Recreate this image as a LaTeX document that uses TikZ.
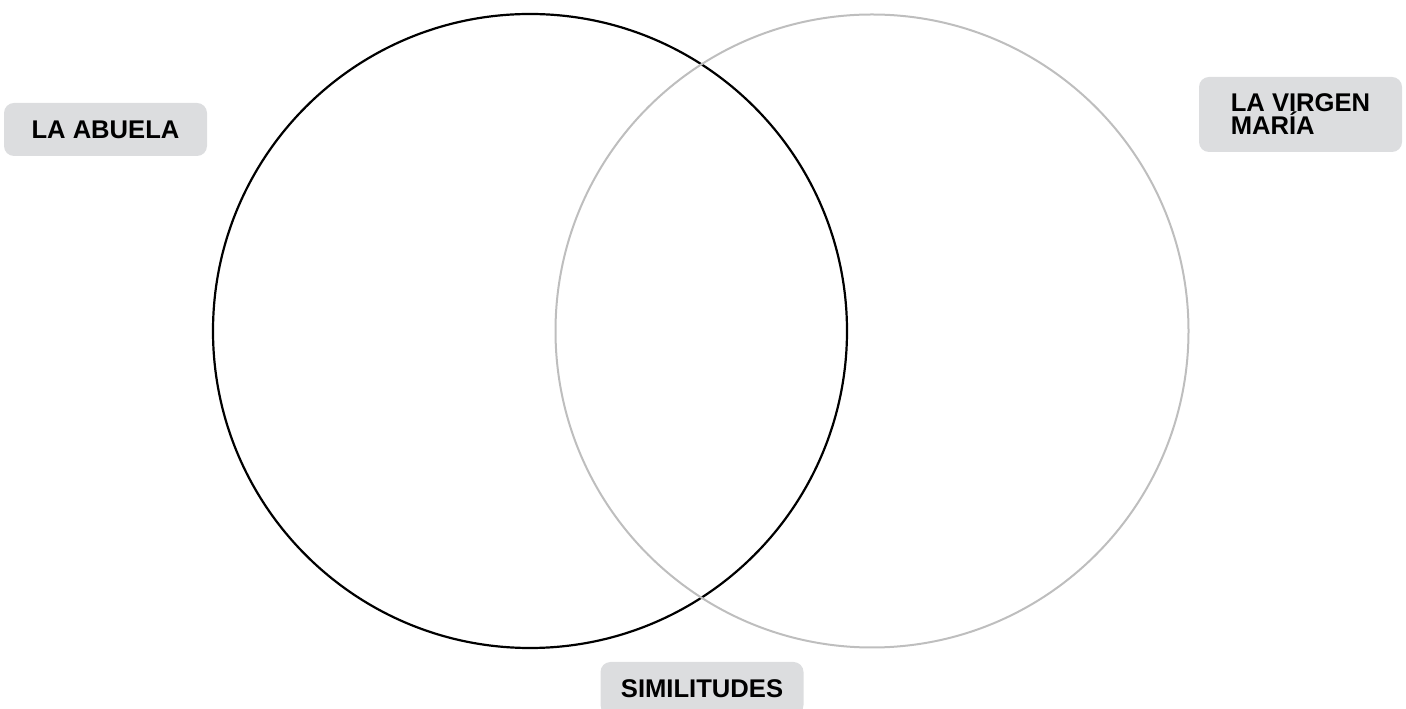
\documentclass[tikz,border=0pt]{standalone}
\usepackage{fontspec}
\setmainfont{Liberation Sans}
\usepackage{tikz}
\usetikzlibrary{positioning}
\definecolor{tagfill}{HTML}{DCDDDF}
\definecolor{ringgrey}{HTML}{BEBEBE}
\tikzset{
  tag/.style={fill=tagfill, rounded corners=10pt, minimum width=203pt, minimum height=53pt,
    align=left, font=\fontsize{25.6}{23}\selectfont\bfseries, inner sep=0pt}
}

\begin{document}
\begin{tikzpicture}[x=1pt,y=1pt]
  \useasboundingbox (0,0) rectangle (1406,709);

  % Left set
  \draw[line width=2.2pt, black] (530,378) circle (317);

  % Right set
  \draw[line width=2pt, ringgrey] (872,378) circle (316.5);

  % Labels
  \node[tag] (abuela) at (105.5,579.5) {LA ABUELA};
  \node[tag, minimum height=75pt] (virgen) at (1300.5,594.5) {LA VIRGEN\\MARÍA};

  \begin{scope}
    \clip (0,0) rectangle (1406,709);
    \node[tag] (similitudes) at (702,20.5) {SIMILITUDES};
  \end{scope}
\end{tikzpicture}
\end{document}
